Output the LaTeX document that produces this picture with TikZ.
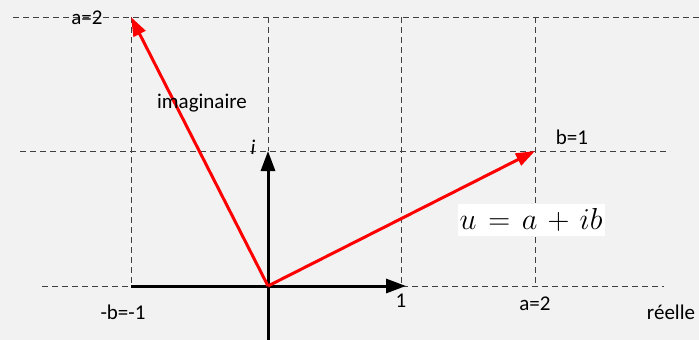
\documentclass[tikz,border=0pt]{standalone}
\usepackage{fontspec}
\usepackage{graphicx}
\setmainfont{Carlito}
\usetikzlibrary{arrows.meta}
\definecolor{bg}{HTML}{F2F2F2}
\definecolor{gridc}{HTML}{404040}
\begin{document}
\begin{tikzpicture}[x=1pt,y=-1pt,
  gridline/.style={draw=gridc,line width=0.9pt,dash pattern=on 6pt off 4pt},
  axis/.style={draw=black,line width=3pt,-{Triangle[length=20pt,width=14pt]}},
  vec/.style={draw=red,line width=3pt,-{Triangle[length=19pt,width=13pt]}},
  lbl/.style={inner sep=0pt,font=\fontsize{21}{24}\selectfont}]
\fill[bg] (0,0) rectangle (699,340);
\useasboundingbox (0,0) rectangle (699,340);
% grid coordinates
\coordinate (t0) at (13,17);   \coordinate (t1) at (699,17);
\coordinate (m0) at (20,151);  \coordinate (m1) at (670,151);
\coordinate (b0) at (42,286);  \coordinate (b1) at (664,286);
\coordinate (v1a) at (131,17); \coordinate (v1b) at (131,286);
\coordinate (v2a) at (268,17); \coordinate (v2b) at (268,151);
\coordinate (v3a) at (401,17); \coordinate (v3b) at (401,286);
\coordinate (v4a) at (535,17); \coordinate (v4b) at (535,286);
\draw[gridline] (t0) -- (t1);
\draw[gridline] (m0) -- (m1);
\draw[gridline] (b0) -- (b1);
\draw[gridline] (v1a) -- (v1b);
\draw[gridline] (v2a) -- (v2b);
\draw[gridline] (v3a) -- (v3b);
\draw[gridline] (v4a) -- (v4b);
% formula box
\node[fill=white,inner sep=1pt,minimum width=147pt,minimum height=32pt,
      font=\fontsize{24.88}{28}\selectfont] (eq) at (531,220)
      {\scalebox{1.22}{$u\mskip2mu=\mskip2mu a\mskip2mu+\mskip2mu ib$}};
% axes
\coordinate (O) at (268,286);
\coordinate (xs) at (131,286);
\coordinate (xe) at (406,286);
\coordinate (ys) at (268,340);
\coordinate (ye) at (268,151);
\draw[axis] (xs) -- (xe);
\draw[axis] (ys) -- (ye);
% vectors
\coordinate (A) at (131,17);
\coordinate (B) at (535,151);
\draw[vec] (O) -- (A);
\draw[vec] (O) -- (B);
% labels
\node[lbl] (la) at (87,18) {a=2};
\node[lbl] (limag) at (202,103) {imaginaire};
\node[lbl] (li) at (253,147) {\itshape i};
\node[lbl] (lb) at (572,137) {b=1};
\node[lbl] (lmb) at (123,312) {-b=-1};
\node[lbl] (l1) at (401,301) {1};
\node[lbl] (la2) at (535,304) {a=2};
\node[lbl] (lre) at (671,312) {réelle};
\end{tikzpicture}
\end{document}
